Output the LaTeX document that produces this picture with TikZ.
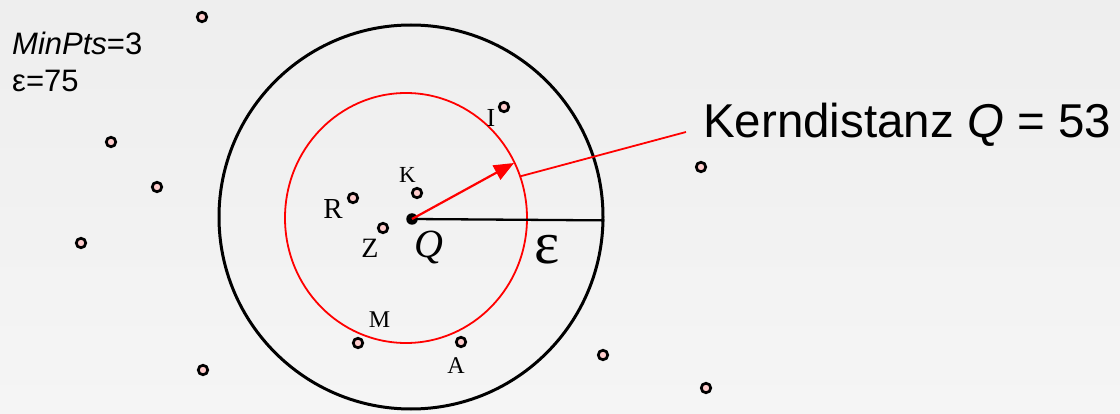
\documentclass[tikz,border=0pt]{standalone}
\usepackage{fontspec}
\setmainfont{Liberation Sans}
\newfontfamily\seriffont{Liberation Serif}
\usetikzlibrary{arrows.meta,shapes.geometric}
\definecolor{ptfill}{HTML}{FFCCCC}
\definecolor{bgtop}{HTML}{EEEEEE}
\definecolor{bgbot}{HTML}{F5F5F5}
\begin{document}
\begin{tikzpicture}[x=1pt,y=-1pt,
  pnt/.style={circle,draw=black,fill=ptfill,line width=2.7pt,minimum size=9.5pt,inner sep=0pt},
  lbl/.style={font=\seriffont\fontsize{#1}{#1}\selectfont,inner sep=0pt,anchor=base},
  info/.style={font=\fontsize{31}{31}\selectfont,inner sep=0pt,anchor=base west},
]
\path[top color=bgtop,bottom color=bgbot] (0,0) rectangle (1120,414);
\useasboundingbox (0,0) rectangle (1120,414);

% epsilon neighbourhood and core distance
\node[circle,draw=black,line width=3pt,minimum size=384pt,inner sep=0pt] (eps) at (411,217) {};
\node[ellipse,draw=red,line width=1.8pt,minimum width=242pt,minimum height=250pt,inner sep=0pt] (core) at (406,218) {};

% centre Q
\node[circle,fill=black,minimum size=11.5pt,inner sep=0pt] (Q) at (412,219) {};
\coordinate (tip) at (514,163);
\draw[line width=2.3pt] (Q.center) -- (eps.-1.5);
\draw[red,line width=2.2pt,-{Triangle[length=20pt,width=16pt]}] (Q.center) -- (tip);
\coordinate (lead) at (686,132);
\draw[red,line width=1.8pt] (core.20) -- (lead);

% points
\node[pnt] (p1) at (202,17) {};
\node[pnt] (p2) at (111,142) {};
\node[pnt] (p3) at (157,187) {};
\node[pnt] (p4) at (81,243) {};
\node[pnt] (p5) at (203,370) {};
\node[pnt] (p6) at (701,167) {};
\node[pnt] (p7) at (603,355) {};
\node[pnt] (p8) at (706,388) {};
\node[pnt] (pI) at (504,107) {};
\node[pnt] (pK) at (417,193) {};
\node[pnt] (pR) at (353,198) {};
\node[pnt] (pZ) at (383,228) {};
\node[pnt] (pM) at (358,343) {};
\node[pnt] (pA) at (461,342) {};

% point labels
\node[lbl=26] (lI) at (491,127) {I};
\node[lbl=23] (lK) at (407.5,183) {K};
\node[lbl=29] (lR) at (333,219) {R};
\node[lbl=28] (lZ) at (370,258) {Z};
\node[lbl=24] (lM) at (379.5,327) {M};
\node[lbl=24] (lA) at (456,373) {A};
\node[inner sep=0pt,anchor=base west,font=\seriffont\itshape\fontsize{40}{40}\selectfont] (lQ) at (414,258) {Q};
\node[inner sep=0pt,anchor=base west,font=\seriffont\fontsize{60}{60}\selectfont] (leps) at (534,264) {ε};

% info text
\node[info] (minpts) at (12,55) {\itshape MinPts\upshape =3};
\node[info] (epsval) at (12,92) {ε=75};
\node[inner sep=0pt,anchor=base west,font=\fontsize{47.5}{47.5}\selectfont] (kd) at (703,138) {Kerndistanz \itshape Q\upshape{} = 53};
\end{tikzpicture}
\end{document}
